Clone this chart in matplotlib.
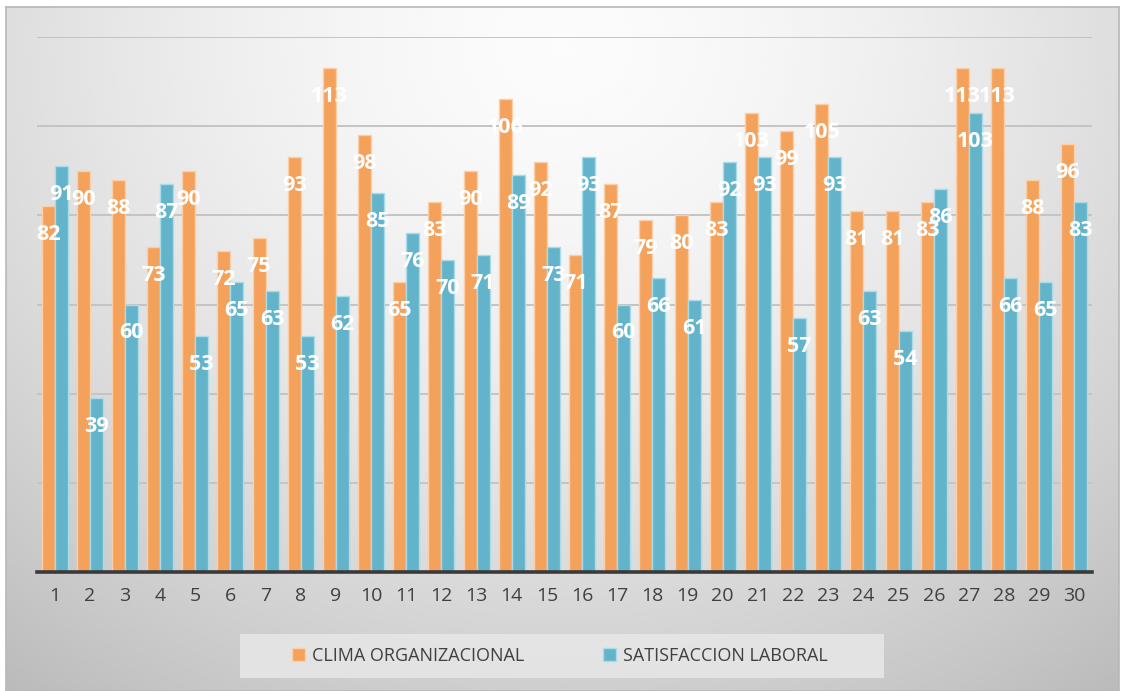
import matplotlib.pyplot as plt
import numpy as np
from matplotlib.patches import Patch, Rectangle

participants = [str(i) for i in range(1, 31)]
clima = [82, 90, 88, 73, 90, 72, 75, 93, 113, 98, 65, 83, 90, 106, 92,
         71, 87, 79, 80, 83, 103, 99, 105, 81, 81, 83, 113, 113, 88, 96]
satisfaccion = [91, 39, 60, 87, 53, 65, 63, 53, 62, 85, 76, 70, 71, 89, 73,
                93, 60, 66, 61, 92, 93, 57, 93, 63, 54, 86, 103, 66, 65, 83]
series_names = ["CLIMA ORGANIZACIONAL", "SATISFACCION LABORAL"]

ORANGE = "#f4a15c"
BLUE = "#63b4cb"
TEXT = "#404040"

plt.rcParams["font.family"] = ["Open Sans", "DejaVu Sans"]

W, H = 1123, 691
fig = plt.figure(figsize=(W / 100, H / 100), dpi=100)

# grey radial backdrop with a thin frame
bg = fig.add_axes([6 / W, 0, 1113 / W, 684 / H], zorder=-5)
yy, xx = np.mgrid[0:1:300j, 0:1:500j]
r = np.sqrt(((xx - 0.5) / 0.75) ** 2 + ((yy - 0.05) / 1.1) ** 2)
shade = np.clip(0.985 - 0.22 * r ** 1.6, 0.72, 1)
bg.imshow(shade, cmap="gray", vmin=0, vmax=1, aspect="auto",
          extent=[0, 1, 1, 0], interpolation="bicubic")
bg.set_xlim(0, 1)
bg.set_ylim(1, 0)
for s in bg.spines.values():
    s.set_color("#b8b8b8")
    s.set_linewidth(1.2)
bg.set_xticks([])
bg.set_yticks([])

ax = fig.add_axes([37 / W, 1 - 572 / H, 1055 / W, 535 / H])
ax.set_facecolor("none")

x = np.arange(len(participants))
w = 0.37
bars_c = ax.bar(x - w / 2, clima, w, color=ORANGE, edgecolor="#fbcfa8",
                linewidth=1.0, zorder=3)
bars_s = ax.bar(x + w / 2, satisfaccion, w, color=BLUE, edgecolor="#a9dbe8",
                linewidth=1.0, zorder=3)

for bars in (bars_c, bars_s):
    for b in bars:
        ax.annotate(f"{int(b.get_height())}",
                    (b.get_x() + b.get_width() / 2, b.get_height()),
                    xytext=(0, -20.5), textcoords="offset points",
                    ha="center", va="center", color="white",
                    fontsize=15.5, fontweight="bold", zorder=5)

ax.set_xlim(-0.5, len(participants) - 0.5)
ax.set_ylim(0, 120)
ax.set_yticks(np.arange(20, 121, 20))
ax.yaxis.grid(True, color="#c4c4c4", linewidth=1.4, zorder=0)
ax.tick_params(axis="y", left=False, labelleft=False)
ax.set_xticks(x)
ax.set_xticklabels(participants, fontsize=14, color=TEXT)
ax.tick_params(axis="x", length=0, pad=11)
for side in ("top", "right", "left"):
    ax.spines[side].set_visible(False)
ax.spines["bottom"].set_color("#3a3a3a")
ax.spines["bottom"].set_linewidth(2.6)
ax.spines["bottom"].set_zorder(6)

# legend band
fig.patches.append(Rectangle((240 / W, 1 - 678 / H), 644 / W, 44 / H,
                             transform=fig.transFigure, facecolor="#e6e6e6",
                             edgecolor="none", alpha=0.9, zorder=1))
handles = [Patch(facecolor=ORANGE, edgecolor="#fbcfa8"),
           Patch(facecolor=BLUE, edgecolor="#a9dbe8")]
leg = fig.legend(handles, series_names, loc="center",
                 bbox_to_anchor=(560 / W, 1 - 656 / H), ncol=2,
                 fontsize=13, frameon=False,
                 handlelength=0.7, handleheight=0.7, handletextpad=0.4,
                 columnspacing=4.4, borderaxespad=0)
for t in leg.get_texts():
    t.set_color(TEXT)

fig.savefig("out.png", dpi=100)
